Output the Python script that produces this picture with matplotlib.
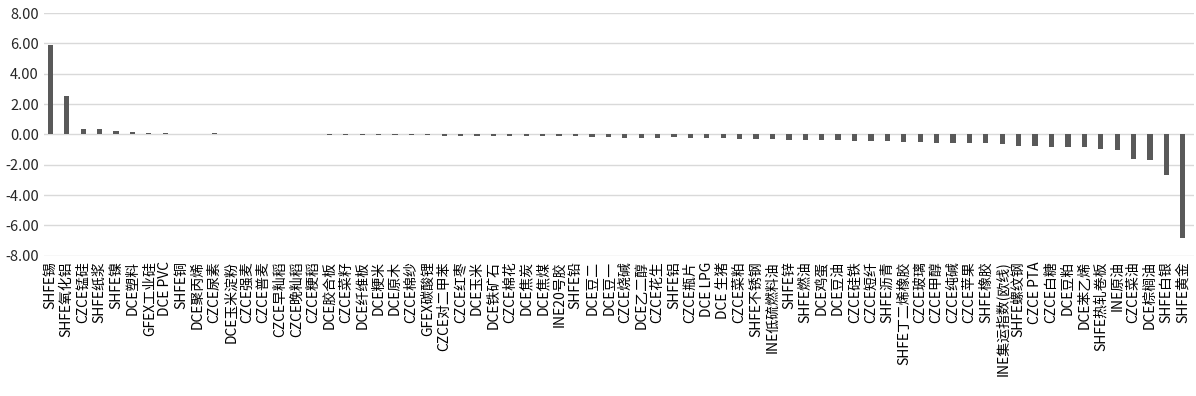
import matplotlib
matplotlib.use('Agg')
import matplotlib.pyplot as plt

plt.rcParams['font.family'] = ['Noto Sans CJK SC', 'DejaVu Sans']

# categories (left to right) and values
names = ['SHFE锡', 'SHFE氧化铝', 'CZCE锰硅', 'SHFE纸浆', 'SHFE镍', 'DCE塑料', 'GFEX工业硅',
         'DCE PVC', 'SHFE铜', 'DCE聚丙烯', 'CZCE尿素', 'DCE玉米淀粉', 'CZCE强麦', 'CZCE普麦',
         'CZCE早籼稻', 'CZCE晚籼稻', 'CZCE粳稻', 'DCE胶合板', 'CZCE菜籽', 'DCE纤维板', 'DCE粳米',
         'DCE原木', 'CZCE棉纱', 'GFEX碳酸锂', 'CZCE对二甲苯', 'CZCE红枣', 'DCE玉米', 'DCE铁矿石',
         'CZCE棉花', 'DCE焦炭', 'DCE焦煤', 'INE20号胶', 'SHFE铅', 'DCE豆二', 'DCE豆一',
         'CZCE烧碱', 'DCE乙二醇', 'CZCE花生', 'SHFE铝', 'CZCE瓶片', 'DCE LPG', 'DCE 生猪',
         'CZCE菜粕', 'SHFE不锈钢', 'INE低硫燃料油', 'SHFE锌', 'SHFE燃油', 'DCE鸡蛋', 'DCE豆油',
         'CZCE硅铁', 'CZCE短纤', 'SHFE沥青', 'SHFE丁二烯橡胶', 'CZCE玻璃', 'CZCE甲醇', 'CZCE纯碱',
         'CZCE苹果', 'SHFE橡胶', 'INE集运指数(欧线)', 'SHFE螺纹钢', 'CZCE PTA', 'CZCE白糖',
         'DCE豆粕', 'DCE苯乙烯', 'SHFE热轧卷板', 'INE原油', 'CZCE菜油', 'DCE棕榈油', 'SHFE白银',
         'SHFE黄金']

values = [5.88, 2.52, 0.35, 0.33, 0.22, 0.15, 0.08,
          0.07, 0.01, 0.01, 0.08, 0.0, 0.0, 0.0,
          0.0, 0.0, 0.0, -0.06, -0.06, -0.06, -0.06,
          -0.06, -0.06, -0.06, -0.07, -0.07, -0.07, -0.07,
          -0.07, -0.08, -0.12, -0.13, -0.13, -0.15, -0.15,
          -0.22, -0.22, -0.22, -0.2, -0.22, -0.22, -0.22,
          -0.28, -0.28, -0.28, -0.35, -0.35, -0.35, -0.35,
          -0.42, -0.42, -0.43, -0.5, -0.5, -0.55, -0.55,
          -0.55, -0.55, -0.6, -0.75, -0.75, -0.8,
          -0.8, -0.8, -0.94, -1.0, -1.6, -1.67, -2.65,
          -6.8]

yticks = [8, 6, 4, 2, 0, -2, -4, -6, -8]

fig = plt.figure(figsize=(11.96, 3.96), dpi=100)
ax = fig.add_axes([0.037, 0.354, 0.961, 0.613])

x = range(len(names))
ax.bar(x, values, width=0.32, color='#595959', zorder=3)

ax.set_ylim(-8, 8)
ax.set_xlim(-0.37, len(names) - 0.34)
ax.set_yticks(yticks)
ax.set_yticklabels(['%.2f' % v for v in yticks], fontsize=10.5, color='#262626')
ax.set_xticks(list(x))
ax.set_xticklabels(names, rotation=90, fontsize=10, color='black')
ax.tick_params(axis='both', length=0, pad=4)
ax.grid(axis='y', color='#d9d9d9', linewidth=1, zorder=0)
for s in ax.spines.values():
    s.set_visible(False)

fig.savefig('out.png', dpi=100)
